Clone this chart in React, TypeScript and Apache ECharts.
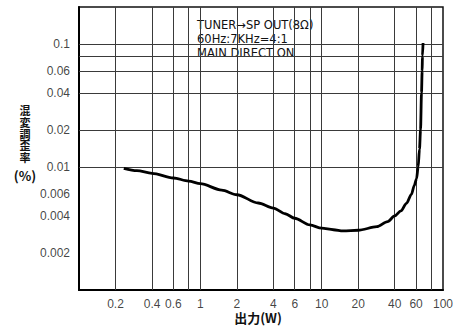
import React, { useEffect, useRef } from "react";
import * as echarts from "echarts";

// Tick labels and grid positions
const xTickValues = [0.2, 0.4, 0.6, 1, 2, 4, 6, 10, 20, 40, 60, 100];
const xTickLabels = ["0.2", "0.4", "0.6", "1", "2", "4", "6", "10", "20", "40", "60", "100"];
const xGridValues = [0.2, 0.4, 0.6, 0.8, 1, 2, 4, 6, 8, 10, 20, 40, 60, 80];
const yTickValues = [0.1, 0.06, 0.04, 0.02, 0.01, 0.006, 0.004, 0.002];
const yTickLabels = ["0.1", "0.06", "0.04", "0.02", "0.01", "0.006", "0.004", "0.002"];
const yGridValues = [0.1, 0.08, 0.06, 0.04, 0.02, 0.01, 0.008, 0.006, 0.004, 0.002];

// Curve: output power (W) vs IM distortion (%)
const powerW = [0.234, 0.3, 0.4, 0.6, 0.8, 1, 1.5, 2, 3, 4, 5, 6, 8, 10, 12.5, 15, 20, 28.5, 35, 40, 45, 50, 55, 58, 60.5, 62.4, 64, 65.3, 66.5, 67.3, 67.7, 68.5];
const distortionPct = [0.00976, 0.00934, 0.00889, 0.00814, 0.00769, 0.00732, 0.00649, 0.00595, 0.0051, 0.00463, 0.00417, 0.00383, 0.00338, 0.00318, 0.00309, 0.00302, 0.00306, 0.00327, 0.0036, 0.004, 0.0044, 0.00507, 0.006, 0.0071, 0.008, 0.01, 0.014, 0.02, 0.04, 0.06, 0.08, 0.102];

const yTitleChars = ["混", "変", "調", "歪", "率"];

const X_MIN = 0.1;
const X_MAX = 100;
const Y_MIN = 0.001;
const Y_MAX = 0.2;

export default function App() {
  const ref = useRef<HTMLDivElement>(null);

  useEffect(() => {
    if (!ref.current) return;
    const chart = echarts.init(ref.current, undefined, { renderer: "svg" });
    const gridColor = "#3a3a3a";
    const labelFont = "Liberation Sans";
    const boxFont = "DejaVu Sans";
    const cjkFont = "Noto Sans CJK JP";

    const option: any = {
      animation: false,
      backgroundColor: "#ffffff",
      grid: {
        left: 79,
        right: 17,
        top: 7,
        bottom: 37,
        show: true,
        borderColor: "#111",
        borderWidth: 1.5,
        backgroundColor: "transparent",
      },
      xAxis: {
        type: "log",
        logBase: 10,
        min: X_MIN,
        max: X_MAX,
        axisLine: { show: true, onZero: false, lineStyle: { color: "#000", width: 2 } },
        axisTick: { show: false },
        axisLabel: { show: false },
        splitLine: { show: false },
        minorSplitLine: { show: false },
      },
      yAxis: {
        type: "log",
        logBase: 10,
        min: Y_MIN,
        max: Y_MAX,
        axisLine: { show: true, onZero: false, lineStyle: { color: "#000", width: 2 } },
        axisTick: { show: false },
        axisLabel: { show: false },
        splitLine: { show: false },
        minorSplitLine: { show: false },
      },
      series: [
        {
          type: "line",
          name: "grid",
          data: [],
          silent: true,
          markLine: {
            silent: true,
            symbol: ["none", "none"],
            label: { show: false },
            lineStyle: { color: gridColor, width: 1, type: "solid" },
            emphasis: { disabled: true },
            data: [
              ...xGridValues.map((v) => ({ xAxis: v })),
              ...yGridValues.map((v) => ({ yAxis: v })),
            ],
          },
        },
        {
          type: "line",
          name: "IMD",
          data: powerW.map((p, i) => [p, distortionPct[i]]),
          smooth: 0.3,
          smoothMonotone: "x",
          showSymbol: false,
          symbol: "none",
          lineStyle: { color: "#000", width: 2.8 },
          z: 5,
        },
        {
          type: "scatter",
          name: "xlabels",
          silent: true,
          clip: false,
          symbolSize: 0,
          data: xTickValues.map((v, i) => ({ value: [v, Y_MIN], name: xTickLabels[i] })),
          label: {
            show: true,
            position: "bottom",
            distance: 8,
            formatter: "{b}",
            color: "#111",
            fontSize: 12,
            fontFamily: labelFont,
          },
        },
        {
          type: "scatter",
          name: "ylabels",
          silent: true,
          clip: false,
          symbolSize: 0,
          data: yTickValues.map((v, i) => ({ value: [X_MIN, v], name: yTickLabels[i] })),
          label: {
            show: true,
            position: "left",
            distance: 9,
            formatter: "{b}",
            color: "#111",
            fontSize: 12,
            fontFamily: labelFont,
          },
        },
      ],
      graphic: [
        {
          type: "group",
          z: 100,
          children: [
            {
              type: "rect",
              shape: { x: 190, y: 16, width: 122, height: 31 },
              style: { fill: "#ffffff" },
            },
            {
              type: "rect",
              shape: { x: 190, y: 47, width: 115, height: 16 },
              style: { fill: "#ffffff" },
            },
            {
              type: "text",
              x: 197,
              y: 25,
              style: { text: "TUNER→SP OUT(8Ω)", fill: "#111", fontSize: 11.5, fontFamily: boxFont, verticalAlign: "middle" },
            },
            {
              type: "text",
              x: 197,
              y: 39,
              style: { text: "60Hz:7KHz=4:1", fill: "#111", fontSize: 11.5, fontFamily: boxFont, verticalAlign: "middle" },
            },
            {
              type: "text",
              x: 197,
              y: 53,
              style: { text: "MAIN DIRECT ON", fill: "#111", fontSize: 11.5, fontFamily: boxFont, verticalAlign: "middle" },
            },
          ],
        },
        ...yTitleChars.map((ch, i) => ({
          type: "text",
          x: 25,
          y: 110 + i * 11.8,
          style: {
            text: ch,
            fill: "#111",
            fontSize: 11,
            fontWeight: 600,
            align: "center",
            verticalAlign: "middle",
            fontFamily: cjkFont,
          },
        })),
        {
          type: "text",
          x: 25,
          y: 175,
          style: {
            text: "(%)",
            fill: "#111",
            fontSize: 13,
            fontWeight: "bold",
            align: "center",
            verticalAlign: "middle",
            fontFamily: cjkFont,
          },
        },
        {
          type: "text",
          x: 258,
          y: 317.5,
          style: {
            text: "出力(W)",
            fill: "#111",
            fontSize: 13,
            fontWeight: "bold",
            align: "center",
            verticalAlign: "middle",
            fontFamily: cjkFont,
          },
        },
      ],
    };

    chart.setOption(option);
    return () => {
      chart.dispose();
    };
  }, []);

  return (
    <div
      ref={ref}
      style={{ position: "fixed", left: 0, top: 0, width: 460, height: 327, background: "#fff" }}
    />
  );
}
